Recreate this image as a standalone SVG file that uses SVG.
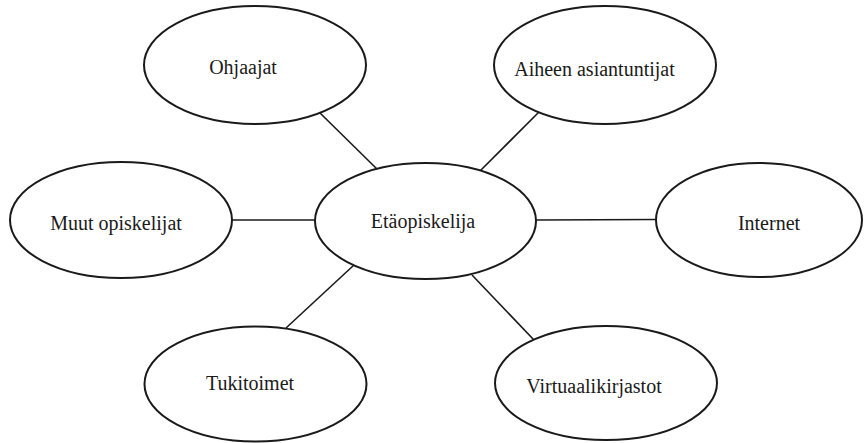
<svg xmlns="http://www.w3.org/2000/svg" width="867" height="443" viewBox="0 0 867 443">
<style>
.n ellipse{fill:#fff;stroke:#1a1a1a;stroke-width:2}
.n text{font-family:"Liberation Serif","Times New Roman",serif;font-size:20px;fill:#1a1a1a;text-anchor:middle}
#connectors line{stroke:#1a1a1a;stroke-width:1.6}
</style>
<rect width="867" height="443" fill="#fff"/>
<g id="connectors">
<line x1="319" y1="112" x2="379" y2="171"/>
<line x1="539" y1="112" x2="480" y2="171"/>
<line x1="232" y1="220" x2="315" y2="220"/>
<line x1="536" y1="220" x2="656" y2="219.5"/>
<line x1="354" y1="265" x2="286" y2="328"/>
<line x1="472" y1="275" x2="534" y2="340"/>
</g>
<g id="node-ohjaajat" class="n"><ellipse cx="255" cy="65" rx="111" ry="59"/><text x="243" y="74">Ohjaajat</text></g>
<g id="node-aiheen" class="n"><ellipse cx="605" cy="65" rx="111" ry="59"/><text x="594.5" y="76">Aiheen asiantuntijat</text></g>
<g id="node-etaopiskelija" class="n"><ellipse cx="425.5" cy="221" rx="110.5" ry="58"/><text x="423" y="228">Etäopiskelija</text></g>
<g id="node-muut" class="n"><ellipse cx="121" cy="220" rx="111" ry="58"/><text x="116" y="230">Muut opiskelijat</text></g>
<g id="node-internet" class="n"><ellipse cx="759" cy="220" rx="103" ry="57"/><text x="769" y="230">Internet</text></g>
<g id="node-tukitoimet" class="n"><ellipse cx="255.5" cy="384" rx="111" ry="57.5"/><text x="250" y="390">Tukitoimet</text></g>
<g id="node-virtuaali" class="n"><ellipse cx="606" cy="383" rx="111" ry="57"/><text x="594" y="393">Virtuaalikirjastot</text></g>
</svg>
